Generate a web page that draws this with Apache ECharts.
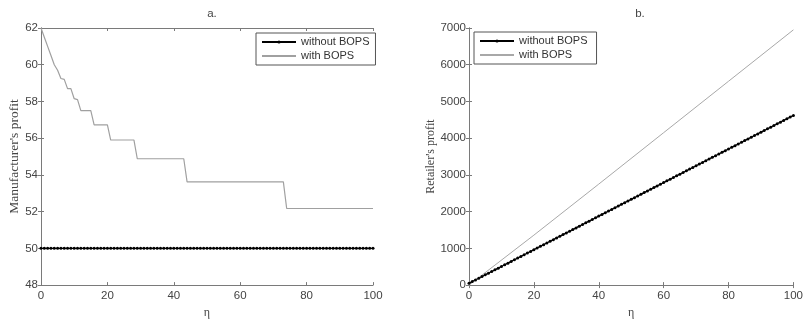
<!DOCTYPE html>
<html>
<head>
<meta charset="utf-8">
<script src="https://cdn.jsdelivr.net/npm/echarts@6/dist/echarts.min.js"></script>
<style>html,body{margin:0;padding:0;background:#fff;}#c{width:806px;height:324px;}</style>
</head>
<body>
<div id="c"></div>
<script>
// ---- data ----
const titles = ['a.', 'b.'];
const yNames = ["Manufacturer's profit", "Retailer's profit"];
const xName = 'η';
const seriesNames = ['without BOPS', 'with BOPS'];
const xTicks = [0, 20, 40, 60, 80, 100];
const yTicksA = [48, 50, 52, 54, 56, 58, 60, 62];
const yTicksB = [0, 1000, 2000, 3000, 4000, 5000, 6000, 7000];

const eta = [0,1,2,3,4,5,6,7,8,9,10,11,12,13,14,15,16,17,18,19,20,21,22,23,24,25,26,27,28,29,30,31,32,33,34,35,36,37,38,39,40,41,42,43,44,45,46,47,48,49,50,51,52,53,54,55,56,57,58,59,60,61,62,63,64,65,66,67,68,69,70,71,72,73,74,75,76,77,78,79,80,81,82,83,84,85,86,87,88,89,90,91,92,93,94,95,96,97,98,99,100];

// a. Manufacturer's profit
const manuWithout = [50,50,50,50,50,50,50,50,50,50,50,50,50,50,50,50,50,50,50,50,50,50,50,50,50,50,50,50,50,50,50,50,50,50,50,50,50,50,50,50,50,50,50,50,50,50,50,50,50,50,50,50,50,50,50,50,50,50,50,50,50,50,50,50,50,50,50,50,50,50,50,50,50,50,50,50,50,50,50,50,50,50,50,50,50,50,50,50,50,50,50,50,50,50,50,50,50,50,50,50,50];
const manuWithEta = [0, 1, 2, 3, 4, 5, 6, 7, 8, 9, 10, 11, 12, 15, 16, 20, 21, 28, 29, 43, 44, 73, 74, 100];
const manuWith = [62.0, 61.5, 61.0, 60.5, 60.0, 59.7, 59.25, 59.2, 58.7, 58.7, 58.15, 58.1, 57.5, 57.5, 56.73, 56.73, 55.9, 55.9, 54.88, 54.88, 53.62, 53.62, 52.17, 52.17];

// b. Retailer's profit
const retWithout = [50,95,141,187,233,279,324,370,416,461,507,553,598,644,690,736,781,827,873,918,964,1010,1055,1101,1147,1193,1238,1284,1330,1375,1421,1467,1512,1558,1604,1650,1695,1741,1787,1832,1878,1924,1969,2015,2061,2107,2152,2198,2244,2289,2335,2381,2426,2472,2518,2564,2609,2655,2701,2746,2792,2838,2883,2929,2975,3021,3066,3112,3158,3203,3249,3295,3340,3386,3432,3478,3523,3569,3615,3660,3706,3752,3797,3843,3889,3935,3980,4026,4072,4117,4163,4209,4254,4300,4346,4392,4437,4483,4529,4574,4620];
const retWithEta = [0, 20, 40, 60, 80, 100];
const retWith = [0, 1360, 2750, 4150, 5550, 6950];

// ---- chart ----
const pairs = (xs, ys) => xs.map((x, i) => [x, ys[i]]);
const axisColor = '#7a7a7a';
const textColor = '#444';
const tickFont = { fontFamily: 'Liberation Sans, Arial, sans-serif', fontSize: 11.5, color: textColor };

function xAx(grid, pos, show) {
  return {
    type: 'value', gridIndex: grid, position: pos, min: xTicks[0], max: xTicks[xTicks.length - 1],
    interval: xTicks[1] - xTicks[0],
    name: show ? xName : '', nameLocation: 'middle', nameGap: 18,
    nameTextStyle: { fontFamily: 'Liberation Serif, serif', fontSize: 12, color: textColor },
    axisLine: { show: true, lineStyle: { color: axisColor, width: 1 } },
    axisTick: { show: true, inside: true, length: 3, lineStyle: { color: axisColor } },
    axisLabel: Object.assign({ show: show, margin: 5 }, tickFont),
    splitLine: { show: false }
  };
}
function yAx(grid, pos, show, ticks, name, gap, nameSize) {
  return {
    type: 'value', gridIndex: grid, position: pos, min: ticks[0], max: ticks[ticks.length - 1],
    interval: ticks[1] - ticks[0],
    name: show ? name : '', nameLocation: 'middle', nameGap: gap,
    nameTextStyle: { fontFamily: 'Liberation Serif, serif', fontSize: nameSize || 12, color: textColor },
    axisLine: { show: true, lineStyle: { color: axisColor, width: 1 } },
    axisTick: { show: true, inside: true, length: 3, lineStyle: { color: axisColor } },
    axisLabel: Object.assign({ show: show, margin: 3, formatter: (v) => String(v) }, tickFont),
    splitLine: { show: false }
  };
}

const legendBase = {
  orient: 'vertical', padding: [3, 6, 3, 5], itemWidth: 34, itemHeight: 4, itemGap: 2,
  borderColor: '#555', borderWidth: 1, backgroundColor: '#fff', selectedMode: false,
  textStyle: { fontFamily: 'Liberation Sans, Arial, sans-serif', fontSize: 11, lineHeight: 12, color: '#333' }
};
const hiddenDot = { color: 'rgba(0,0,0,0)', borderWidth: 0, opacity: 0 };

const option = {
  animation: false,
  backgroundColor: '#fff',
  title: [
    { text: titles[0], left: 207, top: 3, textAlign: 'center', textStyle: { fontFamily: 'Liberation Sans, Arial, sans-serif', fontSize: 11.5, fontWeight: 'normal', color: textColor } },
    { text: titles[1], left: 635, top: 3, textAlign: 'center', textStyle: { fontFamily: 'Liberation Sans, Arial, sans-serif', fontSize: 11.5, fontWeight: 'normal', color: textColor } }
  ],
  grid: [
    { left: 41, top: 28, width: 332, height: 264 },
    { left: 469, top: 28, width: 332, height: 264 }
  ],
  xAxis: [ xAx(0, 'bottom', true), xAx(0, 'top', false), xAx(1, 'bottom', true), xAx(1, 'top', false) ],
  yAxis: [
    yAx(0, 'left', true, yTicksA, yNames[0], 20, 13.5), yAx(0, 'right', false, yTicksA, '', 0),
    yAx(1, 'left', true, yTicksB, yNames[1], 32, 12), yAx(1, 'right', false, yTicksB, '', 0)
  ],
  legend: [
    Object.assign({}, legendBase, { left: 256, top: 33,
      data: [{ name: seriesNames[0] }, { name: seriesNames[1], itemStyle: hiddenDot }] }),
    Object.assign({}, legendBase, { left: 474, top: 32,
      data: [{ name: seriesNames[0] + ' ' }, { name: seriesNames[1] + ' ', itemStyle: hiddenDot }] })
  ],
  series: [
    { name: seriesNames[0], type: 'line', xAxisIndex: 0, yAxisIndex: 0, data: pairs(eta, manuWithout),
      symbol: 'circle', symbolSize: 3, showSymbol: true, lineStyle: { color: '#000', width: 1.3 }, itemStyle: { color: '#000' } },
    { name: seriesNames[1], type: 'line', xAxisIndex: 0, yAxisIndex: 0, data: pairs(manuWithEta, manuWith),
      symbol: 'none', lineStyle: { color: '#a0a0a0', width: 1.2 }, itemStyle: { color: '#a0a0a0' } },
    { name: seriesNames[0] + ' ', type: 'line', xAxisIndex: 2, yAxisIndex: 2, data: pairs(eta, retWithout),
      symbol: 'circle', symbolSize: 3, showSymbol: true, lineStyle: { color: '#000', width: 1.3 }, itemStyle: { color: '#000' } },
    { name: seriesNames[1] + ' ', type: 'line', xAxisIndex: 2, yAxisIndex: 2, data: pairs(retWithEta, retWith),
      symbol: 'none', lineStyle: { color: '#a8a8a8', width: 1 }, itemStyle: { color: '#a8a8a8' } }
  ]
};

const chart = echarts.init(document.getElementById('c'), null, { renderer: 'canvas' });
chart.setOption(option);
</script>
</body>
</html>
